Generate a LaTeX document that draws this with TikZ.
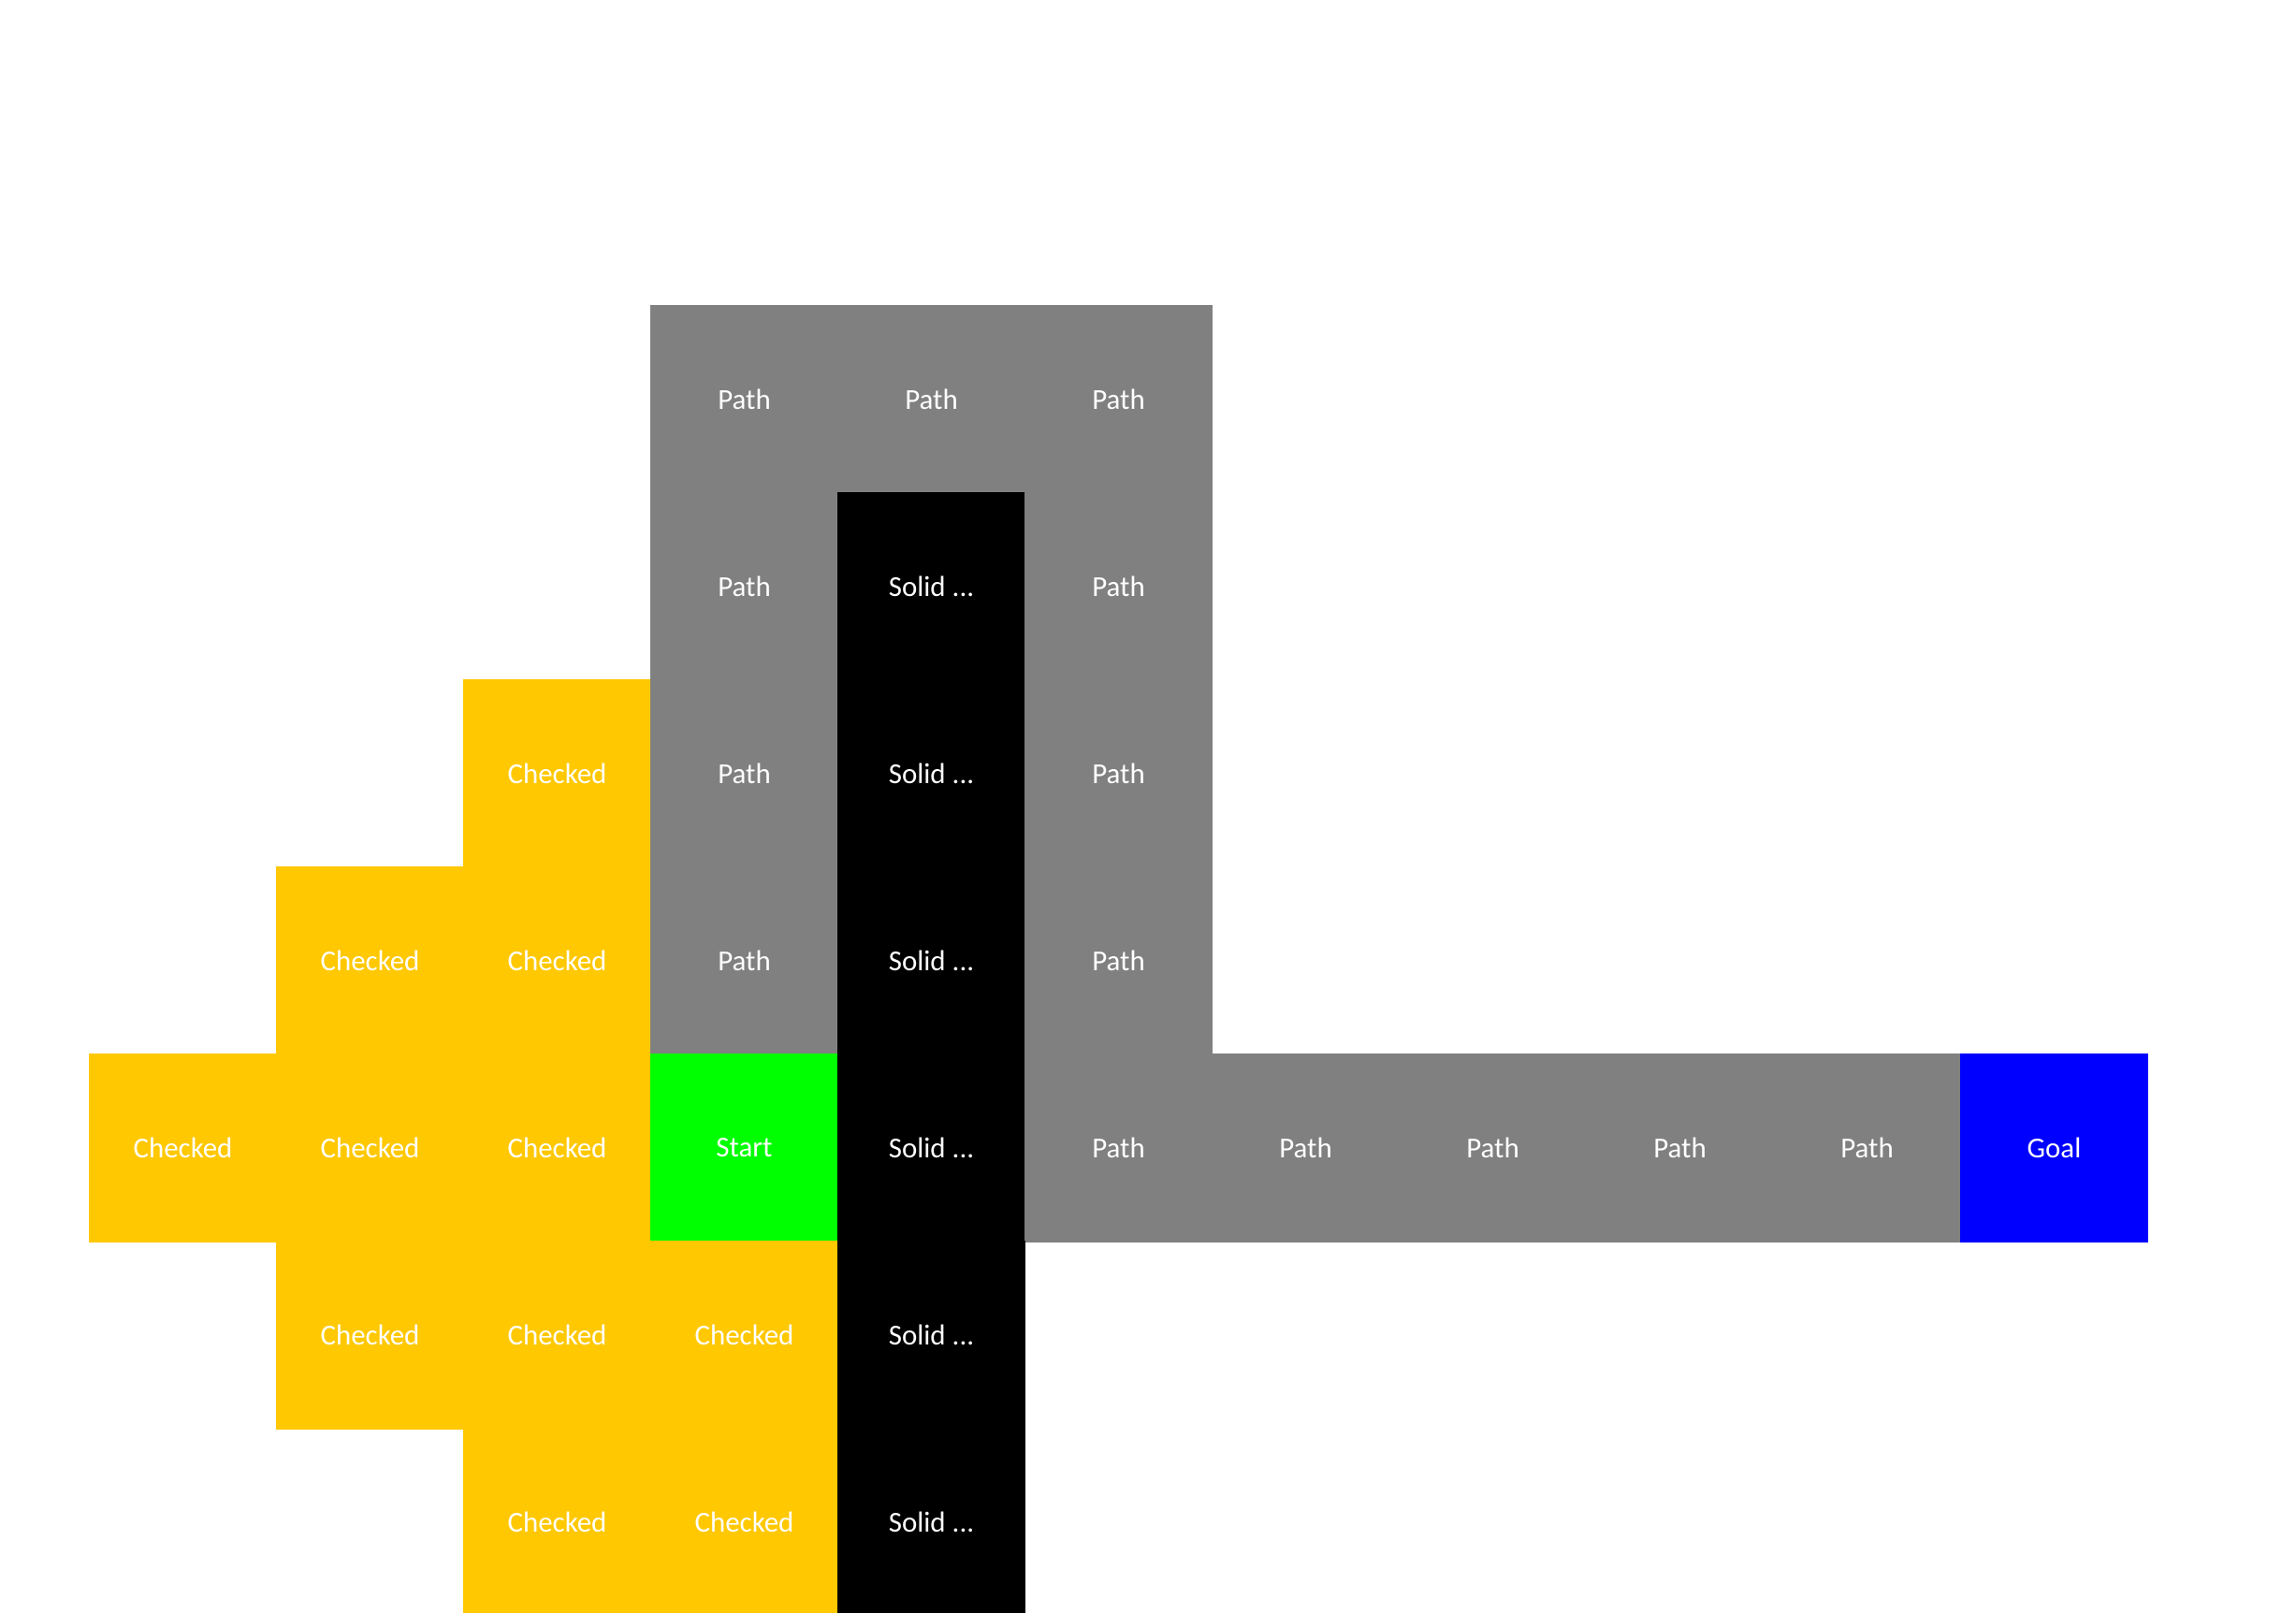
\documentclass[tikz,border=0pt]{standalone}
\usepackage{fontspec}
\setmainfont{Carlito}
\definecolor{checkedyellow}{HTML}{FFC800}
\definecolor{pathgray}{HTML}{808080}
\definecolor{startgreen}{HTML}{00FF00}
\definecolor{goalblue}{HTML}{0000FF}
\tikzset{
    cell/.style={minimum width=2cm, minimum height=2cm, inner sep=0pt, text=white,
        font=\fontsize{8.8}{10}\selectfont, fill=#1, draw=#1, line width=0.4pt},
    checked/.style={cell=checkedyellow},
    pathcell/.style={cell=pathgray},
    solid/.style={cell=black},
}
\begin{document}
\begin{tikzpicture}
    \useasboundingbox (0, 0) rectangle (24.54, -17.24);

    \node[pathcell] (path1) at (7.955, -4.27) {Path};
    \node[pathcell] (path2) at (9.955, -4.27) {Path};
    \node[pathcell] (path3) at (11.955, -4.27) {Path};

    \node[pathcell] (path4) at (7.955, -6.27) {Path};
    \node[solid] (solid1) at (9.955, -6.27) {Solid ...};
    \node[pathcell] (path5) at (11.955, -6.27) {Path};

    \node[checked] (chk1) at (5.955, -8.27) {Checked};
    \node[pathcell] (path6) at (7.955, -8.27) {Path};
    \node[solid] (solid2) at (9.955, -8.27) {Solid ...};
    \node[pathcell] (path7) at (11.955, -8.27) {Path};

    \node[checked] (chk2) at (3.955, -10.27) {Checked};
    \node[checked] (chk3) at (5.955, -10.27) {Checked};
    \node[pathcell] (path8) at (7.955, -10.27) {Path};
    \node[solid] (solid3) at (9.955, -10.27) {Solid ...};
    \node[pathcell] (path9) at (11.955, -10.27) {Path};

    \node[checked] (chk4) at (1.955, -12.27) {Checked};
    \node[checked] (chk5) at (3.955, -12.27) {Checked};
    \node[checked] (chk6) at (5.955, -12.27) {Checked};
    \node[cell=startgreen] (start) at (7.955, -12.27) {Start};
    \node[solid] (solid4) at (9.955, -12.27) {Solid ...};
    \node[pathcell] (path10) at (11.955, -12.27) {Path};
    \node[pathcell] (path11) at (13.955, -12.27) {Path};
    \node[pathcell] (path12) at (15.955, -12.27) {Path};
    \node[pathcell] (path13) at (17.955, -12.27) {Path};
    \node[pathcell] (path14) at (19.955, -12.27) {Path};
    \node[cell=goalblue] (goal) at (21.955, -12.27) {Goal};

    \node[checked] (chk7) at (3.955, -14.27) {Checked};
    \node[checked] (chk8) at (5.955, -14.27) {Checked};
    \node[checked] (chk9) at (7.955, -14.27) {Checked};
    \node[solid] (solid5) at (9.955, -14.27) {Solid ...};

    \node[checked] (chk10) at (5.955, -16.27) {Checked};
    \node[checked] (chk11) at (7.955, -16.27) {Checked};
    \node[solid] (solid6) at (9.955, -16.27) {Solid ...};
\end{tikzpicture}
\end{document}
